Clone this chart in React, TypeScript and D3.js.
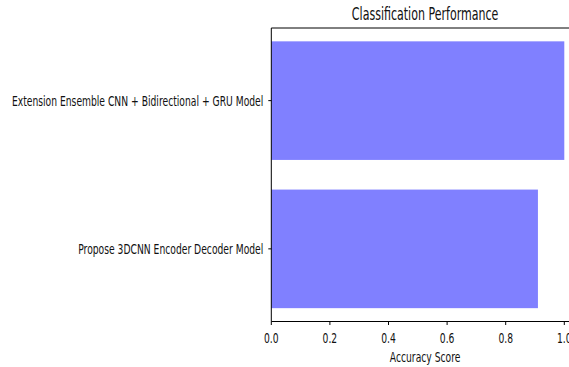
import React from "react";
import * as d3 from "d3";

const categories = ["Propose 3DCNN Encoder Decoder Model", "Extension Ensemble CNN + Bidirectional + GRU Model"];
const values = [0.91, 1.0];
const xTicks = [0, 0.2, 0.4, 0.6, 0.8, 1.0];
const title = "Classification Performance";
const xLabel = "Accuracy Score";

const W = 569, H = 367;
const left = 271.3, top = 28, bottom = 321.5;
const pxPerUnit = 293;
const SX = 0.635;
const FS = 14.5;
const FONT = "DejaVu Sans, sans-serif";

function T({ x, y, anchor, children, size = FS }: any) {
  return (
    <text transform={`translate(${x},${y}) scale(${SX},1)`} textAnchor={anchor} fontFamily={FONT} fontSize={size} fill="#111">
      {children}
    </text>
  );
}

export default function App() {
  const xMax = d3.max(values)! * 1.05;
  const x = d3.scaleLinear().domain([0, xMax]).range([left, left + xMax * pxPerUnit]);
  const y = d3.scaleLinear().domain([-0.49, categories.length - 1 + 0.49]).range([bottom, top]);
  const barH = 0.8;
  const right = x(xMax);
  return (
    <svg width={W} height={H} style={{ position: "absolute", left: 0, top: 0, background: "#fff" }}>
      {categories.map((c, i) => (
        <rect key={c} x={x(0)} y={y(i + barH / 2)} width={x(values[i]) - x(0)} height={y(i - barH / 2) - y(i + barH / 2)} fill="#8080ff" />
      ))}
      <line x1={left} x2={left} y1={top} y2={bottom} stroke="#000" strokeWidth={1} />
      <line x1={left} x2={right} y1={bottom} y2={bottom} stroke="#000" strokeWidth={1} />
      <line x1={left} x2={right} y1={top} y2={top} stroke="#000" strokeWidth={1} />
      <line x1={right} x2={right} y1={top} y2={bottom} stroke="#000" strokeWidth={1} />
      {xTicks.map((t) => (
        <g key={t}>
          <line x1={x(t)} x2={x(t)} y1={bottom} y2={bottom + 3.5} stroke="#000" />
          <T x={x(t)} y={343.3} anchor="middle">{d3.format(".1f")(t)}</T>
        </g>
      ))}
      {categories.map((c, i) => (
        <g key={c}>
          <line x1={left - 3} x2={left} y1={y(i)} y2={y(i)} stroke="#000" />
          <T x={left - 8} y={y(i) + 5.3} anchor="end">{c}</T>
        </g>
      ))}
      <T x={(left + right) / 2} y={361.7} anchor="middle">{xLabel}</T>
      <T x={(left + right) / 2} y={20} anchor="middle" size={FS * 1.2}>{title}</T>
    </svg>
  );
}
